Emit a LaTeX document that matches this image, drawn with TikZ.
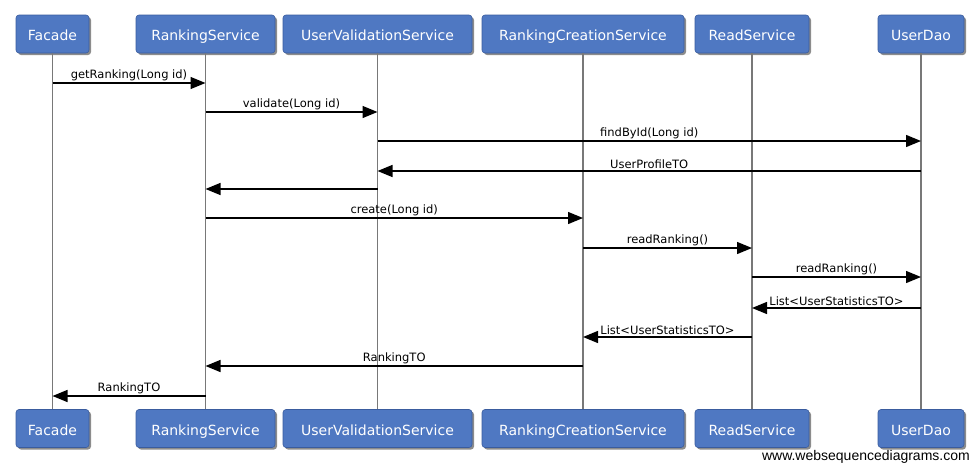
\documentclass[tikz,border=0pt]{standalone}
\usepackage{fontspec}
\setmainfont{DejaVu Sans}
\newfontfamily\wmfont{Liberation Sans}
\usetikzlibrary{arrows.meta,shadows}

\definecolor{boxblue}{RGB}{79,120,194}
\definecolor{boxedge}{RGB}{58,92,158}
\definecolor{lifegray}{RGB}{120,120,120}

\begin{document}
\begin{tikzpicture}[x=1pt,y=-1pt,
  actor/.style={draw=boxedge,fill=boxblue,rounded corners=3pt,line width=.6pt,
    minimum height=38pt,inner sep=0pt,text=white,text height=13.5pt,text depth=0pt,
    font=\fontsize{14}{16}\selectfont,
    drop shadow={shadow xshift=2pt,shadow yshift=-2pt,fill=black,opacity=.45}},
  lifeline/.style={draw=lifegray,line width=1.8pt},
  msg/.style={draw=black,line width=1.3pt,-{Triangle[length=15pt,width=12pt]}},
  lbl/.style={above,inner sep=1.5pt,font=\fontsize{11.5}{13}\selectfont}]
  \useasboundingbox (0,0) rectangle (980,471);

  % participants, top row
  \node[actor,minimum width=73pt]  (facade)     at (52.5,34)  {Facade};
  \node[actor,minimum width=139pt] (rankSvc)    at (205.5,34) {RankingService};
  \node[actor,minimum width=189pt] (userVal)    at (377.5,34) {UserValidationService};
  \node[actor,minimum width=202pt] (rankCreate) at (583,34)   {RankingCreationService};
  \node[actor,minimum width=114pt] (readSvc)    at (752,34)   {ReadService};
  \node[actor,minimum width=86pt]  (userDao)    at (921,34)   {UserDao};

  % participants, bottom row
  \node[actor,minimum width=73pt]  (facadeB)     at (52.5,428.5)  {Facade};
  \node[actor,minimum width=139pt] (rankSvcB)    at (205.5,428.5) {RankingService};
  \node[actor,minimum width=189pt] (userValB)    at (377.5,428.5) {UserValidationService};
  \node[actor,minimum width=202pt] (rankCreateB) at (583,428.5)   {RankingCreationService};
  \node[actor,minimum width=114pt] (readSvcB)    at (752,428.5)   {ReadService};
  \node[actor,minimum width=86pt]  (userDaoB)    at (921,428.5)   {UserDao};

  % lifelines
  \path[lifeline] (facade.south) -- (facadeB.north);
  \path[lifeline] (rankSvc.south) -- (rankSvcB.north);
  \path[lifeline] (userVal.south) -- (userValB.north);
  \path[lifeline] (rankCreate.south) -- (rankCreateB.north);
  \path[lifeline] (readSvc.south) -- (readSvcB.north);
  \path[lifeline] (userDao.south) -- (userDaoB.north);

  % messages
  \path[msg] (facade |- 0,83) -- (rankSvc |- 0,83) node[midway,lbl] {getRanking(Long id)};
  \path[msg] (rankSvc |- 0,112) -- (userVal |- 0,112) node[midway,lbl] {validate(Long id)};
  \path[msg] (userVal |- 0,141) -- (userDao |- 0,141) node[midway,lbl] {findById(Long id)};
  \path[msg] (userDao |- 0,171) -- (userVal |- 0,171) node[midway,lbl] {UserProfileTO};
  \path[msg] (userVal |- 0,189) -- (rankSvc |- 0,189);
  \path[msg] (rankSvc |- 0,218) -- (rankCreate |- 0,218) node[midway,lbl] {create(Long id)};
  \path[msg] (rankCreate |- 0,248) -- (readSvc |- 0,248) node[midway,lbl] {readRanking()};
  \path[msg] (readSvc |- 0,277) -- (userDao |- 0,277) node[midway,lbl] {readRanking()};
  \path[msg] (userDao |- 0,308) -- (readSvc |- 0,308) node[midway,lbl] {List<UserStatisticsTO>};
  \path[msg] (readSvc |- 0,337) -- (rankCreate |- 0,337) node[midway,lbl] {List<UserStatisticsTO>};
  \path[msg] (rankCreate |- 0,366) -- (rankSvc |- 0,366) node[midway,lbl] {RankingTO};
  \path[msg] (rankSvc |- 0,396) -- (facade |- 0,396) node[midway,lbl] {RankingTO};

  % watermark
  \node[anchor=east,inner sep=0pt,font=\wmfont\fontsize{14}{16}\selectfont] (wsd) at (970,457) {www.websequencediagrams.com};
\end{tikzpicture}
\end{document}
